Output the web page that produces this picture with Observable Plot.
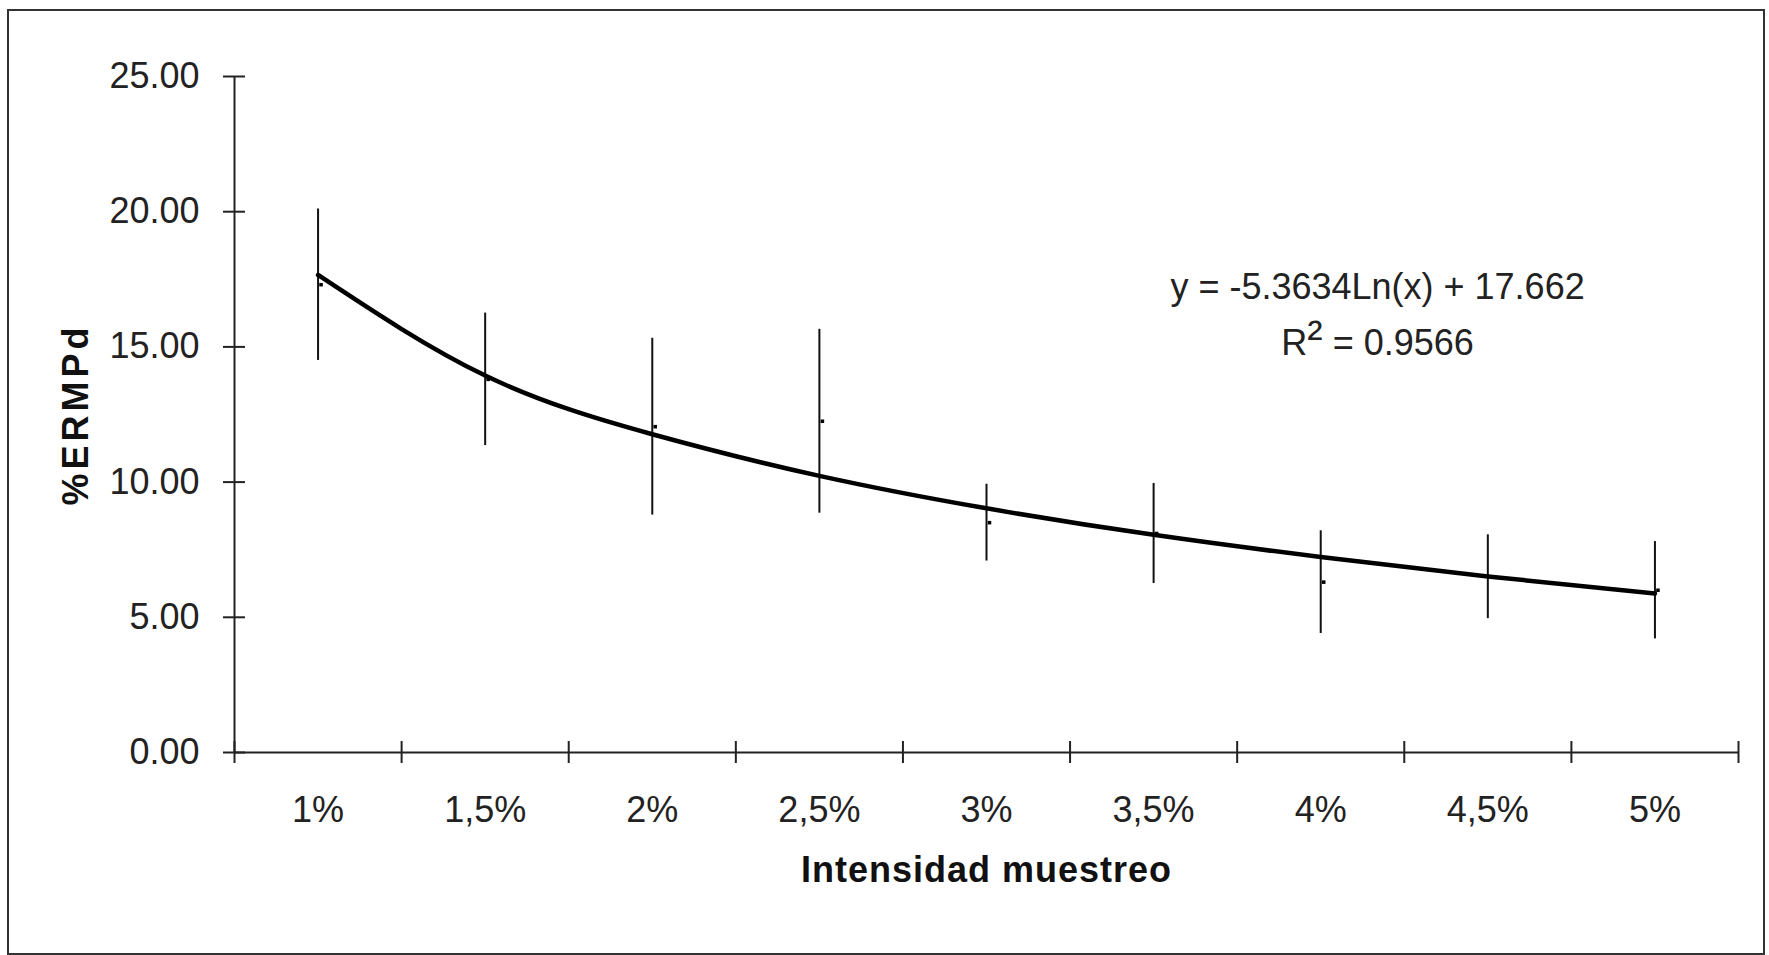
<!DOCTYPE html>
<html>
<head>
<meta charset="utf-8">
<script src="https://cdn.jsdelivr.net/npm/d3@7"></script>
<script src="https://cdn.jsdelivr.net/npm/@observablehq/plot@0.6"></script>
<style>
  html, body { margin: 0; padding: 0; background: #fff; }
  #wrap { position: relative; width: 1769px; height: 955px; overflow: hidden; }
  #border { position: absolute; left: 7px; top: 9px; width: 1754px; height: 942px; border: 2px solid #333; pointer-events: none; }
</style>
</head>
<body>
<div id="wrap"><div id="border"></div></div>
<script>
// ---- data ----
const categories = ["1%", "1,5%", "2%", "2,5%", "3%", "3,5%", "4%", "4,5%", "5%"];
const ermpd      = [17.3, 13.8, 12.05, 12.25, 8.5, 8.1, 6.3, 6.5, 6.0];
const errorHalf  = [2.8, 2.45, 3.27, 3.4, 1.42, 1.85, 1.9, 1.55, 1.8];
const trendValues = [17.66, 13.94, 11.77, 10.23, 9.03, 8.05, 7.23, 6.51, 5.88];
const yTicks = [0, 5, 10, 15, 20, 25];
const equationText = "y = -5.3634Ln(x) + 17.662";
const r2Text = "R\u00B2 = 0.9566";
const xTitle = "Intensidad muestreo";
const yTitle = "%ERMPd";

const rows = categories.map((c, i) => ({
  i: i + 1, cat: c, v: ermpd[i], lo: ermpd[i] - errorHalf[i], hi: ermpd[i] + errorHalf[i], t: trendValues[i]
}));
const idx = rows.map(d => d.i);
const boundaries = [0, ...idx].map(i => i + 0.5);

const W = 1769, H = 955, mL = 234, mR = 31, mT = 76, mB = 203;
const frameW = W - mL - mR, frameH = H - mT - mB;

const chart = Plot.plot({
  width: W, height: H,
  marginLeft: mL, marginRight: mR, marginTop: mT, marginBottom: mB,
  style: { fontFamily: "'Liberation Sans', Arial, sans-serif", fontSize: "36px", color: "#222", background: "transparent" },
  x: { type: "linear", domain: [0.5, 9.5] },
  y: { domain: [0, 25] },
  marks: [
    Plot.axisY({ ticks: yTicks, tickSize: 0, tickPadding: 35, tickFormat: d3.format(".2f"), label: null, fontSize: 36 }),
    Plot.axisX({ ticks: idx, tickSize: 0, tickPadding: 44, tickFormat: i => categories[i - 1], label: null, fontSize: 36 }),
    Plot.tickY(yTicks, { y: d => d, insetRight: frameW - 22, dx: -11, stroke: "#222", strokeWidth: 2 }),
    Plot.tickX(boundaries, { x: d => d, insetTop: frameH - 22, dy: 11, stroke: "#222", strokeWidth: 2 }),
    Plot.ruleX([0.5], { y1: 0, y2: 25, stroke: "#222", strokeWidth: 2 }),
    Plot.ruleY([0], { x1: 0.5, x2: 9.5, stroke: "#222", strokeWidth: 2 }),
    Plot.ruleX(rows, { x: "i", y1: "lo", y2: "hi", stroke: "#111", strokeWidth: 2 }),
    Plot.line(rows, { x: "i", y: "t", curve: "natural", stroke: "#000", strokeWidth: 4.5 }),
    Plot.dot(rows, { x: "i", y: "v", symbol: "square", r: 2, fill: "#000", dx: 3 }),
    Plot.text([equationText], { x: 7.34, y: 17.21, text: d => d, textAnchor: "middle", fontSize: 36, fill: "#222" }),
    Plot.text([r2Text], { x: 7.34, y: 15.11, text: d => d, textAnchor: "middle", fontSize: 36, fill: "#222" }),
    Plot.text([xTitle], { frameAnchor: "bottom", dy: 129, text: d => d, textAnchor: "middle", fontSize: 36, fontWeight: "bold", fill: "#111" }),
    Plot.text([yTitle], { frameAnchor: "left", dx: -158, rotate: -90, text: d => d, textAnchor: "middle", fontSize: 36, fontWeight: "bold", fill: "#111" })
  ]
});

const svg = d3.select(chart);
svg.selectAll("text")
  .filter(function () { return this.textContent === xTitle; })
  .style("letter-spacing", "1px");
svg.selectAll("text")
  .filter(function () { return this.textContent === yTitle; })
  .style("letter-spacing", "4px");
// enlarge the superscript in R²
svg.selectAll("text")
  .filter(function () { return this.textContent === r2Text; })
  .each(function () {
    const t = d3.select(this);
    t.text(null);
    t.append("tspan").text("R");
    t.append("tspan").attr("font-size", "46px").attr("dy", "-2").text("\u00B2");
    t.append("tspan").attr("dy", "2").text(" = 0.9566");
  });

document.getElementById("wrap").prepend(chart);
</script>
</body>
</html>
